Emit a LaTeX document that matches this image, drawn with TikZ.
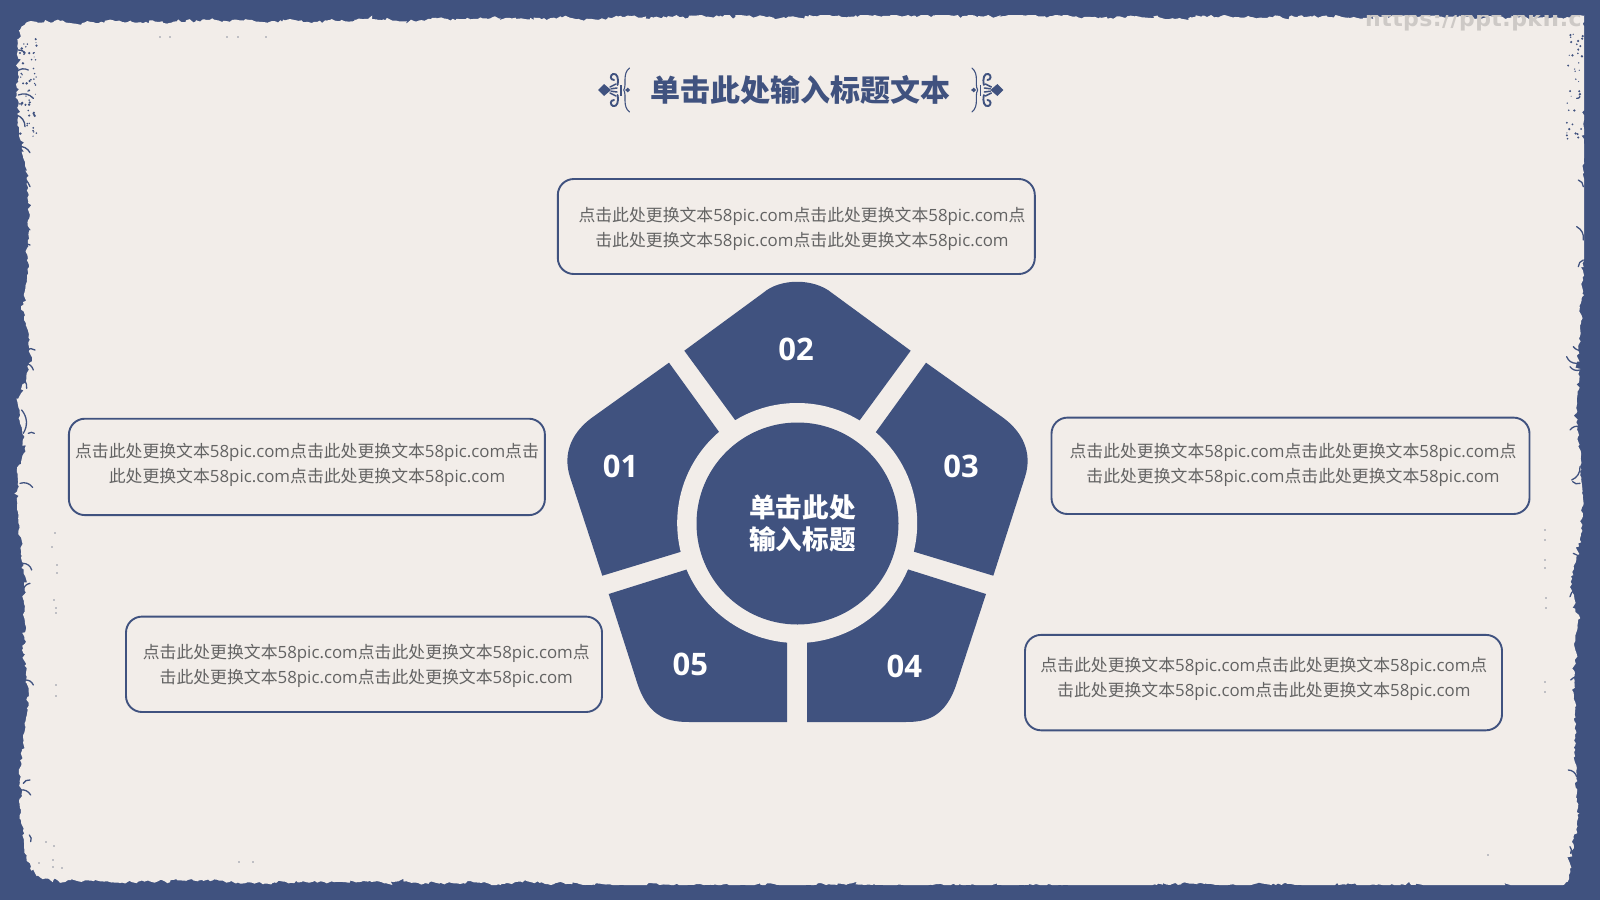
\documentclass[tikz,border=0pt]{standalone}
\usepackage{fontspec}
\setmainfont{Open Sans}
\newfontfamily\cjk{Noto Sans CJK SC}
\newfontfamily\urlfont[LetterSpace=2]{DejaVu Sans}
\definecolor{ink}{HTML}{40527F}
\definecolor{paper}{HTML}{F2EDE9}
\definecolor{bodytext}{HTML}{636363}
\definecolor{speck}{HTML}{8C90A0}
\definecolor{mark}{HTML}{CDC9C6}
\newcommand\unit{{\cjk 点击此处更换文本}58pic.com}
\newcommand\lineone{\unit\unit{\cjk 点}}
\newcommand\linetwo{{\cjk 击此处更换文本}58pic.com\unit}
\newcommand\linethree{\unit\unit{\cjk 点击}}
\newcommand\linefour{{\cjk 此处更换文本}58pic.com\unit}
\tikzset{
  textbox/.style={draw=ink,line width=1.9pt,rounded corners=16pt,inner sep=0pt,fill=none},
  boxtext/.style={text=bodytext,align=center,inner sep=0pt,font=\fontsize{16.85}{25}\selectfont},
  segnum/.style={text=white,inner sep=0pt,font=\fontsize{31}{31}\selectfont\bfseries},
  segment/.style={fill=ink,draw=none},
  flake/.style={draw=ink,line cap=round,line width=1.3pt},
  orn/.style={draw=ink,line width=1.1pt,fill=none,line cap=round},
}
% one flourish beside the heading
\newcommand\flourish{%
  \fill[ink] (598,90) -- (604,84) -- (611,90) -- (604,96) -- cycle;
  \fill[ink] (627.7,87.6) -- (630.2,90) -- (627.7,92.4) -- (625.2,90) -- cycle;
  \fill[ink] (620,84.5) rectangle (621.8,95.5);
  \draw[orn] (629.5,68) .. controls (622,74) and (627,84) .. (623.8,90) .. controls (627,96) and (622,106) .. (629.5,112);
  \draw[orn,line width=1.9pt] (617.5,85) .. controls (619,78) and (617,73) .. (613,74) .. controls (610,75) and (610,80) .. (614,80);
  \draw[orn,line width=1.9pt] (617.5,95) .. controls (619,102) and (617,107) .. (613,106) .. controls (610,105) and (610,100) .. (614,100);
  \draw[orn,line width=1.5pt] (610,87) -- (616,84);
  \draw[orn,line width=1.5pt] (611,88.8) -- (617,88);
  \draw[orn,line width=1.5pt] (610,93) -- (616,96);
  \draw[orn,line width=1.5pt] (611,91.2) -- (617,92);
}
\begin{document}
\begin{tikzpicture}[x=1pt,y=-1pt]
\useasboundingbox (0,0) rectangle (1600,900);
\fill[ink] (0,0) rectangle (1600,900);

% torn outline of the sheet: a rough profile, a slow wander and fine random steps
\pgfmathsetseed{4242}
\gdef\torn{(20,30)}
\gdef\wnd{0}
\foreach \ax/\ay [remember=\ax as \lx (initially 20), remember=\ay as \ly (initially 30)] in {
  30/22,200/21,400/20,560/19,800/16,1000/16,1300/17,1500/17,1586/16,
  1586/40,1585/110,1584/170,1586/220,1584/270,1581/320,1579/350,1577/400,1578/430,1579/450,1584/483,1583/517,1580/533,
  1575/567,1572/583,1578/617,1576/650,1574/680,1575/717,1577/750,1578/783,1577/817,1572/850,1568/867,1563/887,
  1500/887,1300/885,1100/886,900/886,600/884,300/882,100/880,40/878,30/868,
  25/850,22/817,20/783,23/750,26/717,27/683,25/650,23/617,27/583,20/550,18/517,17/467,
  24/450,22/430,18/400,30/370,30/340,23/310,30/260,28/175,22/150,18/130,17/60,20/30}{
  \pgfmathtruncatemacro\nn{max(1,veclen(\ax-\lx,\ay-\ly)/2.6)}
  \foreach \i in {1,...,\nn}{
    \pgfmathsetmacro\t{\i/\nn}
    \pgfmathsetmacro\nw{0.78*\wnd+1.1*(rnd-0.5)*2}
    \xdef\wnd{\nw}
    \pgfmathsetmacro\sp{rnd>0.93?3:1}
    \pgfmathsetmacro\jx{\nw+1.2*\sp*(rnd-0.5)*2}
    \pgfmathsetmacro\jy{\nw+1.0*\sp*(rnd-0.5)*2}
    \pgfmathsetmacro\px{min(1584,\lx+(\ax-\lx)*\t+\jx)}
    \pgfmathsetmacro\py{max(15,min(885,\ly+(\ay-\ly)*\t+\jy))}
    \xdef\torn{\torn -- (\px,\py)}
  }
}
\fill[paper] \torn -- cycle;

% faded address across the top edge
\begin{scope}
  \clip (0,15) rectangle (1584,900);
  \node[anchor=base west,inner sep=0pt,text=mark,font=\urlfont\bfseries\fontsize{22}{22}\selectfont] (address) at (1365,26.7) {https://ppt.pkII.c};
\end{scope}

% flakes of the frame left along the torn edges (third-pixel coordinates)
\begin{scope}[x=0.33333pt,y=-0.33333pt]
  \foreach \a/\b/\c/\d in {
    50/215/85/210, 55/285/100/295, 50/345/75/380, 55/440/90/458, 50/530/90/560, 75/640/78/655,
    55/680/90/690, 55/740/90/735, 60/770/85/800, 60/1020/80/1025, 80/1050/105/1050, 75/1090/100/1110,
    60/1130/80/1165, 65/1230/70/1300, 85/1300/103/1300, 55/150/75/160,
    60/1450/98/1462, 70/1690/95/1710, 70/1770/90/1750, 75/2040/100/2055, 70/2350/90/2340, 60/2370/92/2385, 88/2505/92/2525,
    4750/1050/4720/1040, 4730/1090/4700/1070, 4740/1110/4710/1100, 4710/1290/4740/1280, 4740/290/4730/295,
    4735/540/4750/560, 4730/680/4750/720, 4735/800/4750/780, 4740/1400/4715/1440, 4740/1450/4718/1445, 4712/2040/4750/2032,
    4720/1660/4750/1700, 4710/1790/4745/1760, 4705/2310/4730/2330, 4710/2540/4712/2560}{
    \draw[flake] (\a,\b) to[bend left=35] (\c,\d);
  }
  % loose dark grains near the left and right edges
  \foreach \n in {1,...,60}{
    \pgfmathsetmacro\gx{60+50*rnd}
    \pgfmathsetmacro\gy{110+300*rnd}
    \pgfmathsetmacro\gr{1.5+2.5*rnd}
    \fill[ink] (\gx,\gy) circle[radius=\gr];
  }
  \foreach \n in {1,...,40}{
    \pgfmathsetmacro\gx{4700+50*rnd}
    \pgfmathsetmacro\gy{100+330*rnd}
    \pgfmathsetmacro\gr{1.5+2.5*rnd}
    \fill[ink] (\gx,\gy) circle[radius=\gr];
  }
\end{scope}

% pale specks in two columns and in the corners
\foreach \a/\b in {55/533,52/547,57/565,57/573,54/600,56/608,56/613,56/685,56/696,
  1545/530,1545/540,1545/560,1545/568,1546/598,1546/608,1545/682,1545/692,
  46/842,54/846,53/860,39/863,53/867,62/868,239/862,253/862,
  160/37,170/37,227/37,238/37,266/37,1488/855}{
  \fill[speck] (\a,\b) circle[radius=0.9];
}

% heading with its two flourishes
\flourish
\begin{scope}[xshift=1601.4pt,xscale=-1]
  \flourish
\end{scope}
\node[text=ink,inner sep=0pt,font=\cjk\bfseries\fontsize{30}{30}\selectfont] (title) at (800,90) {单击此处输入标题文本};

% text boxes
\node[textbox,minimum width=477pt,minimum height=95pt] (boxtop) at (796.3,226.5) {};
\node[textbox,minimum width=476pt,minimum height=96.4pt] (boxleft) at (306.9,466.9) {};
\node[textbox,minimum width=478pt,minimum height=96.4pt] (boxright) at (1290.5,465.8) {};
\node[textbox,minimum width=476pt,minimum height=95.4pt] (boxlowleft) at (364,664.3) {};
\node[textbox,minimum width=477pt,minimum height=95.4pt] (boxlowright) at (1263.5,682.6) {};
\node[boxtext] (texttop) at (802,229) {\lineone\\\linetwo};
\node[boxtext] (textleft) at (307,464.8) {\linethree\\\linefour};
\node[boxtext] (textright) at (1293,464.8) {\lineone\\\linetwo};
\node[boxtext] (textlowleft) at (366.3,665.8) {\lineone\\\linetwo};
\node[boxtext] (textlowright) at (1263.8,679) {\lineone\\\linetwo};

% pentagon cut into five rounded segments
\fill[segment] (751,441.7) -- (684.3,350.7) -- (763,293) .. controls (780,278) and (814,278) .. (832,293) -- (910.7,350.7) -- (844,441.7) -- cycle;
\fill[segment] (860.6,453.2) -- (926,362.7) -- (1001.7,416.7) .. controls (1022,431) and (1033,452) .. (1025,477) -- (993.3,575.7) -- (890.2,544.5) -- cycle;
\fill[segment] (734.4,453.2) -- (669,362.7) -- (593.3,416.7) .. controls (573,431) and (562,452) .. (570,477) -- (602.3,575.7) -- (704.8,544.5) -- cycle;
\fill[segment] (884.2,561.9) -- (986,594) -- (956.7,683.3) .. controls (945,719) and (925,722) .. (905,722) -- (807,722) -- (807,610) -- cycle;
\fill[segment] (710.8,561.9) -- (608.7,594) -- (637.3,683.3) .. controls (649,719) and (670,722) .. (690,722) -- (787,722) -- (787,610) -- cycle;
\fill[paper] (797.2,523) circle[radius=120];
\fill[ink] (797.5,523.5) circle[radius=101];

\node[text=white,align=center,inner sep=0pt,font=\cjk\bfseries\fontsize{26.6}{32}\selectfont] (hub) at (802.5,523) {单击此处\\输入标题};
\node[segnum] (n1) at (620.5,466.7) {01};
\node[segnum] (n2) at (796,349) {02};
\node[segnum] (n3) at (961,466.7) {03};
\node[segnum] (n4) at (904.3,666.7) {04};
\node[segnum] (n5) at (690.3,664) {05};
\end{tikzpicture}
\end{document}
